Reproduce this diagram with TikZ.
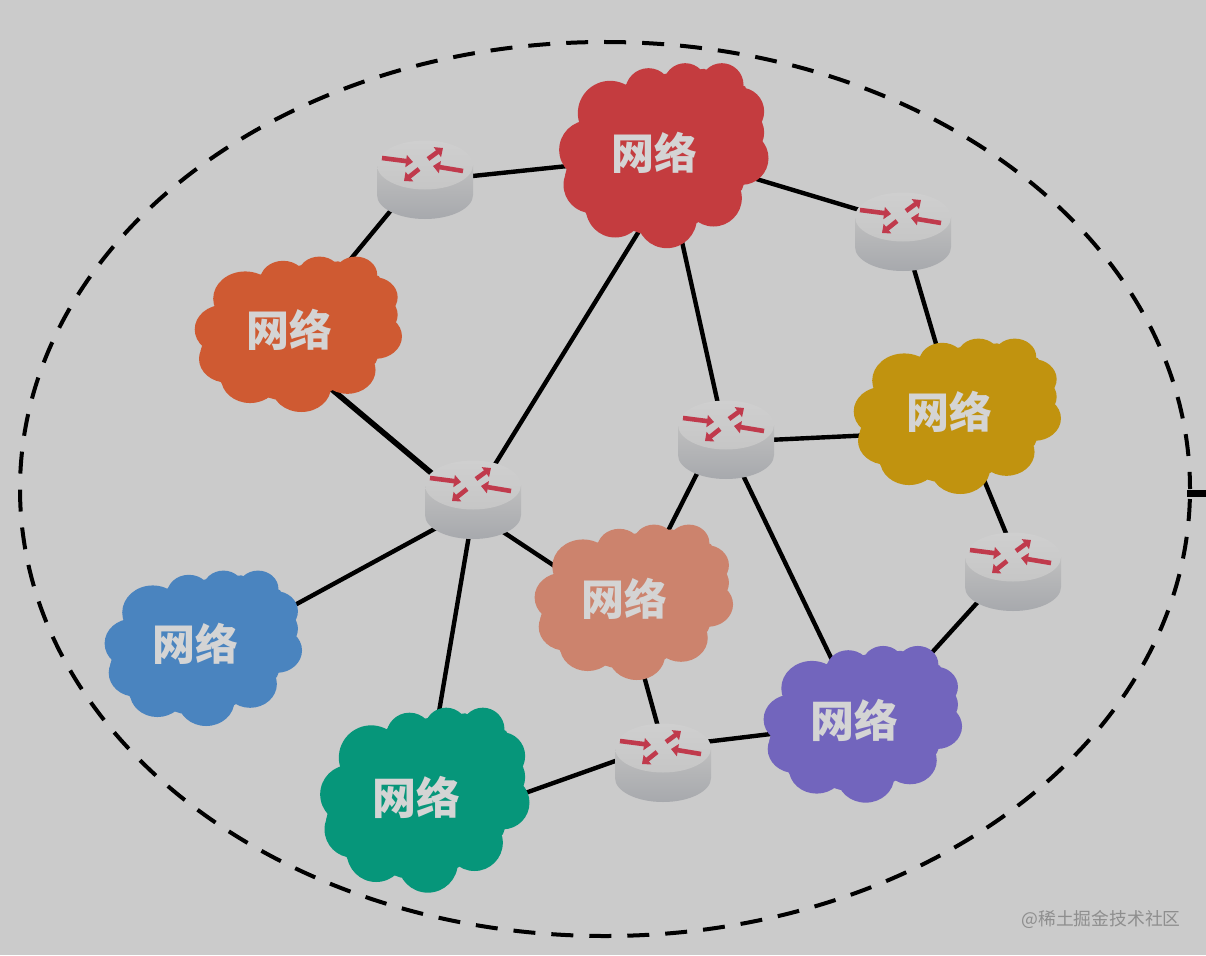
\documentclass[tikz,border=0pt]{standalone}
\usepackage{fontspec}
\newfontfamily\cjk{Noto Sans CJK SC}
\usetikzlibrary{arrows.meta,calc}
\definecolor{bgc}{HTML}{CBCBCB}
\definecolor{cred}{HTML}{C43C3F}
\definecolor{corange}{HTML}{CF5A32}
\definecolor{cyellow}{HTML}{C1930F}
\definecolor{cblue}{HTML}{4A84BF}
\definecolor{cgreen}{HTML}{06967A}
\definecolor{csalmon}{HTML}{CC836D}
\definecolor{cpurple}{HTML}{7265BD}
\definecolor{clabel}{HTML}{D4D4D4}
\definecolor{rarrow}{HTML}{C03A4C}
\definecolor{sidetop}{HTML}{BFBFBF}
\definecolor{sidebot}{HTML}{A7A9AD}
\definecolor{lidtop}{HTML}{CFCFCF}
\definecolor{lidbot}{HTML}{C6C6C6}
\def\lblsize{43}
\tikzset{
  x=1pt,y=-1pt,
  link/.style={draw=black,line width=4.4pt},
  thicklink/.style={draw=black,line width=5.6pt},
  boundary/.style={draw=black,line width=4pt,dash pattern=on 22pt off 16pt,dash phase=28pt},
  tick/.style={draw=black,line width=7pt},
  netlabel/.style={text=clabel,font=\cjk\bfseries\fontsize{\lblsize}{\lblsize}\selectfont,inner sep=0pt},
  mark text/.style={text=black!30!bgc,font=\cjk\fontsize{17.8}{18}\selectfont,inner sep=0pt},
  rflow/.style={draw=rarrow,line width=4.6pt,-{Triangle[length=7pt,width=12pt]}},
  hub/.style={inner sep=0pt,minimum size=2pt},
}
% cloud: name, cx, cy, xscale, yscale, colour, label dx, label dy
\newcommand{\cloudnet}[8]{%
  \begin{scope}[shift={(#2,#3)},xscale=#4/3,yscale=#5/3]
    \fill[#6] (-255,-100) -- (-102,-225) -- (15,-250) -- (122,-263) -- (245,-210) -- (300,-80)
      -- (235,100) -- (100,200) -- (-70,230) -- (-230,175) -- (-295,55) -- cycle;
    \foreach \a/\b/\r in {-160/-130/97,-45/-195/70,65/-215/65,175/-215/65,230/-135/72,235/5/80,
      150/125/85,10/185/90,-145/155/88,-215/85/85,-225/-20/88,228/-72/74}
      {\fill[#6] (\a,\b) ellipse [x radius=\r,y radius=\r];}
  \end{scope}
  \node[netlabel] (#1) at (#2+#7,#3+#8) {网络};
}
% router: name, cx, cy
\newcommand{\routerbox}[3]{%
  \begin{scope}[shift={(#2,#3)}]
    \path[top color=sidetop,bottom color=sidebot]
      (-48,-15) -- (-48,15) arc [start angle=180,end angle=0,x radius=48,y radius=24] -- (48,-15) -- cycle;
    \path[top color=lidtop,bottom color=lidbot] (0,-15) ellipse [x radius=48,y radius=24.5];
    \draw[rflow] (-43,-22) -- (-12,-18);
    \draw[rflow] (3,-21) -- (18,-32);
    \draw[rflow] (38,-9) -- (8,-14);
    \draw[rflow] (-6,-11) -- (-21,1);
  \end{scope}
  \node[hub] (#1) at (#2,#3) {};
}
\begin{document}
\begin{tikzpicture}
\useasboundingbox (0,0) rectangle (1206,955);
\fill[bgc] (0,0) rectangle (1206,955);
\node[inner sep=0pt] (area) at (605,489) {};
\coordinate (areaE) at (1187,493);
\coordinate (edge) at (1206,493);
\draw[boundary] (area) ellipse [x radius=585,y radius=447];
\draw[tick] (areaE) -- (edge);

% link ends, under the clouds and routers that cover them
\foreach \n/\x/\y in {
  redA/663/156, redB/686/155, redC/663/151, redD/663/156,
  orangeA/288/335, orangeB/297/360,
  yellowA/957/415, yellowB/957/431, yellowC/958/417,
  blueA/203/655, greenA/424/800, greenB/424/829,
  salmonA/633/618, salmonB/633/600, salmonC/623/600,
  purpleA/862/722, purpleB/869/722, purpleC/862/723,
  raA/425/181, raB/416/180,
  rbA/903/223, rbB/903/232,
  rcA/726/440, rcB/726/442, rcC/714/440,
  rdA/473/500, rdB/473/508, rdC/473/512, rdD/475/500,
  reA/1022/572, reB/1005/572,
  rfA/668/763, rfB/663/747, rfC/663/744}
  {\coordinate (\n) at (\x,\y);}
\draw[link] (raA) -- (redA);
\draw[link] (redC) -- (rbA);
\draw[link] (rbB) -- (yellowA);
\draw[link] (raB) -- (orangeA);
\draw[link] (redD) -- (rcA);
\draw[link] (redB) -- (rdA);
\draw[thicklink] (orangeB) -- (rdB);
\draw[link] (rcB) -- (yellowB);
\draw[link] (rdB) -- (blueA);
\draw[link] (rdD) -- (greenA);
\draw[link] (rdC) -- (salmonA);
\draw[link] (rcC) -- (salmonB);
\draw[link] (rcA) -- (purpleA);
\draw[link] (yellowC) -- (reA);
\draw[link] (reB) -- (purpleB);
\draw[link] (salmonC) -- (rfA);
\draw[link] (rfB) -- (purpleC);
\draw[link] (rfC) -- (greenB);

\cloudnet{lred}{663.5}{156.5}{1}{1}{cred}{-9}{-4}
\cloudnet{lorange}{298}{335}{.99}{.84}{corange}{-9}{-5}
\cloudnet{lyellow}{957}{417}{.99}{.84}{cyellow}{-8}{-5}
\cloudnet{lblue}{203}{649}{.943}{.84}{cblue}{-8}{-5}
\cloudnet{lsalmon}{633.5}{603}{.948}{.84}{csalmon}{-9}{-4}
\def\lblsize{44}
\cloudnet{lgreen}{424.5}{801}{1}{1}{cgreen}{-8}{-4}
\cloudnet{lpurple}{862.5}{725}{.948}{.847}{cpurple}{-8}{-5}

\routerbox{Ra}{425}{180}
\routerbox{Rb}{903}{232}
\routerbox{Rc}{726}{440}
\routerbox{Rd}{473}{500}
\routerbox{Re}{1013}{572}
\routerbox{Rf}{663}{763}

\node[mark text] (wm) at (1101,919) {@稀土掘金技术社区};
\end{tikzpicture}
\end{document}
